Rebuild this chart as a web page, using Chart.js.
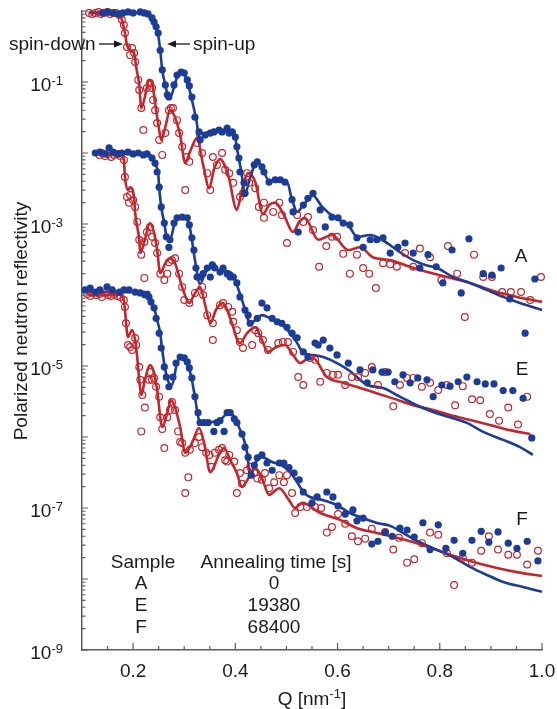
<!DOCTYPE html>
<html>
<head>
<meta charset="utf-8">
<title>Polarized neutron reflectivity</title>
<script src="https://cdn.jsdelivr.net/npm/chart.js@4.4.1/dist/chart.umd.min.js"></script>
<style>
  html, body { margin: 0; padding: 0; background: #fff; }
  canvas { display: block; }
</style>
</head>
<body>
<canvas id="chart" width="557" height="709"></canvas>
<script>
// ---- data: [Q (nm^-1), reflectivity] ----

// sample A, spin-up measured points
const aUp = [[0.141,0.94],[0.151,0.97],[0.161,0.94],[0.171,0.91],[0.180,0.94],[0.190,0.97],[0.200,0.94],[0.214,0.97],[0.222,0.94],[0.229,0.91],[0.237,0.80],[0.241,0.70],[0.245,0.60],[0.249,0.49],[0.253,0.28],[0.257,0.148],[0.263,0.091],[0.267,0.066],[0.270,0.0615],[0.280,0.091],[0.286,0.125],[0.294,0.138],[0.300,0.134],[0.306,0.107],[0.310,0.088],[0.315,0.0615],[0.321,0.032],[0.329,0.0198],[0.331,0.0153],[0.341,0.0179],[0.351,0.0191],[0.358,0.0198],[0.368,0.0211],[0.374,0.0198],[0.384,0.0225],[0.388,0.0191],[0.394,0.0198],[0.400,0.0168],[0.403,0.0122],[0.407,0.0085],[0.409,0.0054],[0.417,0.0038],[0.419,0.0027],[0.437,0.0068],[0.443,0.0075],[0.452,0.0064],[0.456,0.0054],[0.466,0.0039],[0.478,0.0042],[0.488,0.0042],[0.497,0.0039],[0.511,0.0022],[0.513,0.00148],[0.523,0.00077],[0.533,0.00185],[0.542,0.0023],[0.552,0.0027],[0.566,0.00158],[0.576,0.00091],[0.589,0.00125],[0.601,0.00122],[0.611,0.00103],[0.624,0.00097],[0.638,0.00064],[0.650,0.00047],[0.664,0.00060],[0.677,0.00060],[0.689,0.00064],[0.703,0.00039],[0.718,0.00047],[0.732,0.00054],[0.748,0.00039],[0.761,0.00024],[0.777,0.00037],[0.793,0.00025],[0.806,0.000148],[0.824,0.00043],[0.842,0.000107],[0.857,0.00062],[0.885,0.00020],[0.902,0.00019],[0.920,0.00024],[0.937,0.000088],[0.967,0.000029],[0.986,0.000168]];
// sample A, spin-down measured points
const aDown = [[0.114,0.94],[0.120,0.91],[0.126,0.94],[0.132,0.97],[0.137,0.91],[0.143,0.94],[0.149,0.97],[0.155,0.91],[0.161,0.94],[0.167,0.94],[0.173,0.88],[0.178,0.75],[0.182,0.635],[0.184,0.49],[0.188,0.31],[0.194,0.24],[0.198,0.30],[0.202,0.256],[0.204,0.191],[0.210,0.107],[0.212,0.077],[0.216,0.043],[0.220,0.021],[0.227,0.082],[0.233,0.097],[0.237,0.082],[0.239,0.056],[0.243,0.040],[0.247,0.0265],[0.251,0.0153],[0.257,0.0094],[0.263,0.0191],[0.270,0.040],[0.274,0.043],[0.278,0.043],[0.286,0.029],[0.290,0.0191],[0.296,0.0122],[0.304,0.0088],[0.302,0.0030],[0.310,0.0075],[0.325,0.0138],[0.331,0.0179],[0.335,0.010],[0.345,0.0052],[0.351,0.0030],[0.356,0.0088],[0.364,0.0068],[0.374,0.010],[0.380,0.0058],[0.388,0.0052],[0.396,0.0038],[0.409,0.0024],[0.415,0.0027],[0.423,0.0052],[0.427,0.0038],[0.439,0.0032],[0.446,0.00174],[0.456,0.0020],[0.456,0.00122],[0.474,0.00148],[0.486,0.0020],[0.491,0.00134],[0.501,0.00054],[0.521,0.00134],[0.533,0.00107],[0.542,0.00125],[0.552,0.00082],[0.564,0.00025],[0.578,0.00049],[0.589,0.00066],[0.599,0.00066],[0.611,0.00038],[0.624,0.00020],[0.638,0.00037],[0.650,0.00024],[0.662,0.00020],[0.675,0.000125],[0.689,0.00028],[0.703,0.00027],[0.716,0.00025],[0.732,0.00039],[0.748,0.00025],[0.761,0.00045],[0.781,0.00034],[0.803,0.000163],[0.816,0.00049],[0.834,0.00020],[0.849,0.000049],[0.867,0.00037],[0.885,0.000179],[0.902,0.000179],[0.922,0.00011],[0.939,0.00011],[0.959,0.00011],[0.977,0.000085],[0.998,0.000179]];
// sample A fits
const aUpFit = [[0.116,0.94],[0.231,0.94],[0.237,0.75],[0.243,0.595],[0.249,0.459],[0.253,0.282],[0.257,0.148],[0.263,0.091],[0.268,0.066],[0.274,0.0635],[0.282,0.097],[0.292,0.138],[0.300,0.129],[0.308,0.091],[0.315,0.056],[0.323,0.031],[0.331,0.0153],[0.341,0.019],[0.370,0.0204],[0.398,0.019],[0.403,0.0118],[0.411,0.0058],[0.419,0.0027],[0.429,0.0045],[0.441,0.0072],[0.452,0.0064],[0.464,0.0042],[0.488,0.0040],[0.501,0.0039],[0.511,0.0022],[0.521,0.00148],[0.533,0.00185],[0.552,0.0025],[0.570,0.00174],[0.595,0.00122],[0.621,0.00097],[0.638,0.00066],[0.664,0.00070],[0.687,0.00060],[0.722,0.00040],[0.748,0.00031],[0.775,0.00026],[0.795,0.00024],[0.826,0.000179],[0.859,0.000148],[0.892,0.000118],[0.924,0.000094],[0.957,0.000077],[1.0,0.0000615]];
const aDownFit = [[0.114,0.94],[0.173,0.94],[0.178,0.75],[0.184,0.49],[0.188,0.33],[0.194,0.282],[0.202,0.256],[0.206,0.163],[0.212,0.091],[0.216,0.043],[0.223,0.0615],[0.231,0.107],[0.237,0.097],[0.243,0.0506],[0.251,0.021],[0.255,0.0153],[0.263,0.0232],[0.272,0.040],[0.282,0.032],[0.292,0.0179],[0.302,0.0072],[0.311,0.0103],[0.325,0.0163],[0.337,0.0068],[0.349,0.0032],[0.358,0.0058],[0.370,0.0082],[0.386,0.0049],[0.403,0.00158],[0.413,0.0030],[0.425,0.0052],[0.439,0.0039],[0.454,0.00138],[0.466,0.00185],[0.478,0.0020],[0.495,0.00134],[0.513,0.00077],[0.525,0.00107],[0.536,0.00122],[0.562,0.00060],[0.589,0.00070],[0.621,0.00043],[0.644,0.00047],[0.669,0.00034],[0.703,0.00031],[0.748,0.00024],[0.814,0.000179],[0.859,0.000148],[0.912,0.000110],[0.951,0.000094],[1.0,0.000080]];

// sample E (offset by 1e-2)
const eUp = [[0.126,0.010],[0.135,0.0103],[0.145,0.0097],[0.153,0.0118],[0.161,0.0103],[0.171,0.0097],[0.178,0.010],[0.190,0.0103],[0.200,0.0097],[0.210,0.010],[0.220,0.0094],[0.227,0.0097],[0.237,0.0085],[0.243,0.0072],[0.247,0.0054],[0.251,0.0033],[0.255,0.00174],[0.261,0.00103],[0.265,0.00066],[0.270,0.00047],[0.272,0.00060],[0.280,0.00103],[0.286,0.00122],[0.296,0.00125],[0.306,0.00122],[0.310,0.00097],[0.315,0.00064],[0.319,0.00043],[0.323,0.00024],[0.325,0.000179],[0.331,0.000179],[0.337,0.00020],[0.345,0.00024],[0.351,0.000179],[0.355,0.000265],[0.360,0.00024],[0.370,0.00021],[0.376,0.00024],[0.384,0.00020],[0.390,0.000179],[0.396,0.000179],[0.403,0.000148],[0.409,0.000094],[0.419,0.0000615],[0.425,0.000052],[0.429,0.000040],[0.443,0.000047],[0.452,0.000077],[0.462,0.000066],[0.472,0.000047],[0.482,0.000042],[0.491,0.000040],[0.501,0.000035],[0.511,0.000029],[0.521,0.000025],[0.533,0.0000158],[0.542,0.0000134],[0.556,0.0000211],[0.562,0.0000198],[0.572,0.0000232],[0.585,0.0000179],[0.599,0.0000143],[0.621,0.000011],[0.644,0.0000088],[0.658,0.0000058],[0.669,0.0000088],[0.687,0.0000082],[0.699,0.0000082],[0.712,0.0000060],[0.728,0.0000075],[0.742,0.0000058],[0.757,0.0000068],[0.775,0.0000064],[0.787,0.0000037],[0.804,0.0000054],[0.820,0.0000052],[0.836,0.0000060],[0.853,0.0000070],[0.873,0.0000060],[0.889,0.0000056],[0.906,0.0000056],[0.924,0.0000045],[0.943,0.0000045],[0.963,0.0000035],[0.980,0.00000097]];
const eDown = [[0.134,0.0094],[0.139,0.010],[0.145,0.0091],[0.151,0.0097],[0.157,0.0088],[0.163,0.0094],[0.169,0.0097],[0.175,0.0091],[0.182,0.0080],[0.184,0.0046],[0.188,0.0024],[0.192,0.0020],[0.194,0.00256],[0.200,0.00218],[0.204,0.00174],[0.208,0.00107],[0.212,0.00060],[0.216,0.00037],[0.222,0.00056],[0.222,0.000174],[0.227,0.00077],[0.233,0.00091],[0.237,0.00066],[0.243,0.00054],[0.247,0.00039],[0.253,0.00020],[0.261,0.000163],[0.267,0.00020],[0.270,0.00029],[0.276,0.00031],[0.282,0.00033],[0.290,0.00020],[0.296,0.00013],[0.300,0.000085],[0.310,0.000077],[0.321,0.000107],[0.335,0.00013],[0.337,0.0001],[0.345,0.000052],[0.356,0.000040],[0.356,0.0000232],[0.370,0.000072],[0.376,0.000077],[0.386,0.000068],[0.394,0.000058],[0.396,0.000042],[0.403,0.000032],[0.409,0.0000218],[0.415,0.0000179],[0.433,0.0000198],[0.439,0.000032],[0.445,0.000029],[0.454,0.0000232],[0.464,0.0000168],[0.484,0.0000211],[0.493,0.0000218],[0.503,0.0000218],[0.513,0.0000158],[0.523,0.0000070],[0.533,0.0000054],[0.546,0.000013],[0.556,0.0000122],[0.566,0.0000060],[0.579,0.0000080],[0.591,0.0000075],[0.601,0.0000075],[0.615,0.0000054],[0.628,0.0000070],[0.640,0.0000070],[0.654,0.0000080],[0.667,0.0000097],[0.679,0.0000054],[0.693,0.0000082],[0.709,0.0000027],[0.722,0.0000054],[0.736,0.0000068],[0.748,0.0000068],[0.765,0.0000051],[0.781,0.0000058],[0.797,0.0000046],[0.814,0.0000054],[0.830,0.0000028],[0.845,0.0000052],[0.863,0.0000034],[0.879,0.0000033],[0.898,0.0000021],[0.916,0.0000017],[0.934,0.0000026],[0.953,0.0000015],[0.971,0.0000037]];
const eUpFit = [[0.126,0.0098],[0.231,0.0098],[0.237,0.0085],[0.243,0.0068],[0.249,0.0052],[0.251,0.0033],[0.255,0.00174],[0.261,0.00103],[0.266,0.00064],[0.272,0.00060],[0.282,0.00107],[0.292,0.00125],[0.302,0.00122],[0.310,0.00097],[0.315,0.00060],[0.321,0.00031],[0.331,0.000143],[0.341,0.000204],[0.351,0.00024],[0.370,0.00022],[0.393,0.000204],[0.403,0.000138],[0.415,0.000077],[0.425,0.0000445],[0.429,0.000040],[0.443,0.000047],[0.452,0.000052],[0.468,0.000047],[0.488,0.000040],[0.507,0.000029],[0.521,0.000021],[0.533,0.0000153],[0.552,0.0000143],[0.572,0.0000134],[0.599,0.0000110],[0.624,0.0000085],[0.658,0.0000054],[0.689,0.0000049],[0.722,0.0000037],[0.755,0.0000028],[0.787,0.00000225],[0.820,0.0000019],[0.853,0.00000158],[0.885,0.00000118],[0.924,0.00000091],[0.957,0.00000072],[0.982,0.00000056]];
const eDownFit = [[0.134,0.0094],[0.178,0.0094],[0.182,0.0080],[0.184,0.0046],[0.190,0.0030],[0.194,0.0033],[0.202,0.00232],[0.204,0.00143],[0.212,0.00060],[0.214,0.00039],[0.223,0.00060],[0.233,0.00103],[0.241,0.00075],[0.247,0.00043],[0.253,0.000204],[0.263,0.00028],[0.272,0.00033],[0.282,0.00028],[0.296,0.000129],[0.310,0.000077],[0.319,0.0001],[0.331,0.000129],[0.341,0.000072],[0.351,0.000040],[0.362,0.0000615],[0.376,0.000077],[0.390,0.000047],[0.409,0.000021],[0.423,0.000029],[0.439,0.000035],[0.450,0.000025],[0.464,0.0000158],[0.480,0.0000185],[0.497,0.0000198],[0.513,0.0000143],[0.527,0.0000110],[0.538,0.0000122],[0.552,0.0000129],[0.579,0.0000070],[0.611,0.0000058],[0.644,0.0000049],[0.669,0.0000043],[0.708,0.0000035],[0.748,0.0000028],[0.787,0.0000024],[0.820,0.00000204],[0.859,0.00000174],[0.898,0.00000148],[0.937,0.00000125],[0.977,0.0000011]];

// sample F (offset by 1e-4)
const fUp = [[0.106,0.000118],[0.116,0.000125],[0.126,0.00011],[0.135,0.000118],[0.149,0.00013],[0.159,0.000118],[0.173,0.00011],[0.182,0.000118],[0.192,0.000118],[0.204,0.00011],[0.214,0.000107],[0.223,0.0001],[0.231,0.000094],[0.235,0.00008],[0.241,0.000066],[0.245,0.000047],[0.251,0.000029],[0.255,0.0000179],[0.261,0.0000097],[0.265,0.000007],[0.270,0.0000051],[0.278,0.000007],[0.284,0.000011],[0.292,0.0000134],[0.300,0.000013],[0.306,0.0000114],[0.310,0.0000094],[0.315,0.0000068],[0.321,0.0000037],[0.327,0.0000022],[0.331,0.0000016],[0.339,0.0000016],[0.347,0.0000016],[0.358,0.0000012],[0.364,0.0000016],[0.370,0.0000017],[0.378,0.0000012],[0.384,0.0000022],[0.390,0.0000022],[0.398,0.0000018],[0.403,0.0000016],[0.413,0.0000011],[0.419,0.00000072],[0.425,0.00000052],[0.431,0.00000029],[0.437,0.0000004],[0.443,0.00000051],[0.452,0.00000056],[0.462,0.00000043],[0.472,0.00000034],[0.486,0.00000043],[0.495,0.00000043],[0.505,0.00000037],[0.515,0.00000031],[0.525,0.00000025],[0.533,0.000000168],[0.550,0.000000118],[0.560,0.000000143],[0.579,0.000000168],[0.591,0.000000143],[0.601,0.000000107],[0.615,0.000000082],[0.630,0.000000094],[0.638,0.000000066],[0.650,0.000000072],[0.667,0.000000031],[0.679,0.000000034],[0.693,0.000000045],[0.707,0.00000004],[0.722,0.000000052],[0.736,0.000000049],[0.750,0.000000039],[0.767,0.000000062],[0.781,0.000000026],[0.797,0.000000058],[0.812,0.000000027],[0.828,0.000000035],[0.845,0.000000023],[0.863,0.000000035],[0.881,0.000000047],[0.896,0.000000033],[0.914,0.000000046],[0.934,0.000000032],[0.951,0.000000027],[0.971,0.000000034],[0.992,0.000000018]];
const fDown = [[0.110,0.000103],[0.116,0.000097],[0.122,0.000107],[0.128,0.0001],[0.134,0.000103],[0.139,0.000094],[0.145,0.000107],[0.151,0.0001],[0.157,0.000097],[0.163,0.000103],[0.169,0.000097],[0.175,0.000094],[0.182,0.000085],[0.184,0.000068],[0.186,0.00004],[0.190,0.0000198],[0.194,0.0000185],[0.198,0.0000168],[0.204,0.0000248],[0.206,0.0000198],[0.212,0.0000097],[0.214,0.0000064],[0.218,0.0000039],[0.216,0.0000012],[0.223,0.0000026],[0.231,0.0000064],[0.233,0.0000082],[0.237,0.0000064],[0.241,0.0000068],[0.245,0.0000051],[0.251,0.0000037],[0.253,0.0000019],[0.257,0.0000013],[0.261,0.0000007],[0.267,0.0000019],[0.272,0.0000024],[0.276,0.0000031],[0.282,0.0000024],[0.288,0.0000012],[0.292,0.00000085],[0.296,0.00000082],[0.302,0.0000006],[0.308,0.00000027],[0.302,0.000000163],[0.311,0.00000066],[0.321,0.00000082],[0.329,0.000001],[0.335,0.00000072],[0.343,0.0000006],[0.349,0.00000056],[0.353,0.00000038],[0.360,0.0000006],[0.368,0.00000066],[0.374,0.0000007],[0.380,0.00000047],[0.384,0.00000045],[0.388,0.00000056],[0.398,0.00000045],[0.403,0.000000163],[0.409,0.00000031],[0.413,0.00000022],[0.423,0.00000034],[0.429,0.00000038],[0.437,0.00000031],[0.443,0.00000026],[0.452,0.00000025],[0.458,0.00000031],[0.466,0.00000019],[0.476,0.00000023],[0.486,0.00000029],[0.495,0.00000023],[0.501,0.00000029],[0.511,0.000000163],[0.517,0.000000085],[0.527,0.000000103],[0.540,0.000000103],[0.556,0.000000103],[0.568,0.0000001],[0.579,0.000000045],[0.589,0.000000054],[0.601,0.000000082],[0.615,0.00000006],[0.628,0.00000004],[0.640,0.000000034],[0.654,0.000000037],[0.667,0.000000051],[0.693,0.000000046],[0.709,0.000000026],[0.720,0.000000038],[0.736,0.000000017],[0.750,0.000000019],[0.765,0.000000032],[0.781,0.000000045],[0.797,0.000000042],[0.814,0.000000023],[0.828,0.0000000082],[0.845,0.00000002],[0.863,0.000000017],[0.881,0.000000025],[0.896,0.00000004],[0.914,0.000000026],[0.934,0.000000022],[0.951,0.000000022],[0.971,0.000000016],[0.992,0.000000025]];
const fUpFit = [[0.106,0.00011],[0.231,0.00011],[0.233,0.000085],[0.241,0.000066],[0.247,0.0000445],[0.253,0.000029],[0.257,0.0000168],[0.263,0.0000088],[0.270,0.0000058],[0.276,0.0000054],[0.286,0.000011],[0.296,0.0000134],[0.306,0.000011],[0.315,0.00000635],[0.321,0.00000365],[0.329,0.00000174],[0.339,0.00000158],[0.355,0.00000163],[0.374,0.00000185],[0.388,0.00000225],[0.398,0.0000019],[0.407,0.00000138],[0.417,0.00000091],[0.423,0.0000006],[0.429,0.00000028],[0.439,0.00000043],[0.452,0.00000052],[0.472,0.000000445],[0.493,0.00000039],[0.507,0.00000032],[0.521,0.00000023],[0.533,0.000000168],[0.546,0.000000143],[0.572,0.000000129],[0.599,0.00000011],[0.624,0.000000085],[0.650,0.000000072],[0.677,0.0000000615],[0.703,0.000000056],[0.728,0.0000000445],[0.761,0.000000033],[0.795,0.0000000255],[0.826,0.0000000204],[0.859,0.0000000148],[0.892,0.0000000114],[0.924,0.0000000091],[0.963,0.0000000077],[1.0,0.0000000066]];
const fDownFit = [[0.112,0.0001],[0.175,0.0001],[0.182,0.000085],[0.184,0.0000615],[0.190,0.0000256],[0.198,0.000032],[0.204,0.000023],[0.208,0.0000134],[0.212,0.00000635],[0.216,0.0000039],[0.223,0.00000635],[0.233,0.0000103],[0.241,0.000008],[0.247,0.0000046],[0.257,0.00000138],[0.267,0.0000022],[0.274,0.0000033],[0.282,0.00000264],[0.292,0.00000138],[0.302,0.0000006],[0.315,0.00000082],[0.329,0.00000134],[0.339,0.00000082],[0.351,0.00000032],[0.368,0.00000056],[0.378,0.0000007],[0.390,0.000000475],[0.403,0.00000031],[0.413,0.0000002],[0.427,0.000000273],[0.439,0.000000365],[0.452,0.000000264],[0.466,0.000000153],[0.486,0.00000019],[0.505,0.000000129],[0.517,0.0000001],[0.531,0.000000118],[0.566,0.000000085],[0.605,0.000000068],[0.638,0.000000052],[0.677,0.0000000445],[0.716,0.000000038],[0.755,0.000000032],[0.795,0.0000000256],[0.834,0.0000000204],[0.873,0.0000000168],[0.912,0.0000000143],[0.951,0.0000000125],[1.0,0.000000011]];

// axis labels
const xTickValues = [0.2, 0.4, 0.6, 0.8, 1.0];
const xTickLabels = ['0.2', '0.4', '0.6', '0.8', '1.0'];
const yLabelExps = [-1, -3, -5, -7, -9];

// inset table
const sampleNames = ['A', 'E', 'F'];
const annealTimes = ['0', '19380', '68400'];

const BLUE = '#1c3c95';
const RED = '#c1272d';
const AXIS = '#5c5c5c';
const INK = '#1a1a1a';
const FONT = '"Liberation Sans", Arial, Helvetica, sans-serif';

const toXY = arr => arr.map(p => ({ x: p[0], y: p[1] }));

function fitSet(arr, color) {
    return {
        data: toXY(arr), showLine: true, borderColor: color, borderWidth: 2.6,
        pointRadius: 0, cubicInterpolationMode: 'monotone', clip: false, order: 2
    };
}
function upSet(arr) {
    return {
        data: toXY(arr), showLine: false, pointRadius: 3.6, pointStyle: 'circle',
        backgroundColor: BLUE, borderColor: BLUE, borderWidth: 0, clip: false, order: 1
    };
}
function downSet(arr) {
    return {
        data: toXY(arr), showLine: false, pointRadius: 3.4, pointStyle: 'circle',
        backgroundColor: 'rgba(255,255,255,0)', borderColor: RED, borderWidth: 1.2, clip: false, order: 1
    };
}

function arrow(ctx, x1, x2, y) {
    const dir = Math.sign(x2 - x1);
    ctx.beginPath();
    ctx.moveTo(x1, y);
    ctx.lineTo(x2 - dir * 6, y);
    ctx.stroke();
    ctx.beginPath();
    ctx.moveTo(x2, y);
    ctx.lineTo(x2 - dir * 9, y - 3.5);
    ctx.lineTo(x2 - dir * 9, y + 3.5);
    ctx.closePath();
    ctx.fill();
}

// ticks point inward, labels with superscripts, inset text
const decorations = {
    id: 'decorations',
    afterDraw(chart) {
        const { ctx, chartArea: area, scales } = chart;
        const xs = scales.x, ys = scales.y;
        ctx.save();
        ctx.strokeStyle = AXIS;
        ctx.lineWidth = 1.2;
        ctx.beginPath();
        for (let e = 0; e >= -9; e--) {
            const py = ys.getPixelForValue(Math.pow(10, e));
            ctx.moveTo(area.left, py); ctx.lineTo(area.left + 6, py);
            if (e > -9) {
                for (let m = 2; m <= 9; m++) {
                    const pm = ys.getPixelForValue(m * Math.pow(10, e - 1));
                    ctx.moveTo(area.left, pm); ctx.lineTo(area.left + 3.5, pm);
                }
            }
        }
        for (let k = 3; k <= 20; k++) {
            const px = xs.getPixelForValue(k * 0.05);
            const len = k % 4 === 0 ? 7 : 4;
            ctx.moveTo(px, area.bottom); ctx.lineTo(px, area.bottom - len);
        }
        ctx.stroke();

        ctx.fillStyle = INK;
        ctx.textBaseline = 'alphabetic';

        // y tick labels 10^n
        yLabelExps.forEach(e => {
            const py = ys.getPixelForValue(Math.pow(10, e));
            const sup = String(e);
            ctx.font = '13px ' + FONT;
            ctx.textAlign = 'right';
            ctx.fillText(sup, 63, py + 2.5);
            const w = ctx.measureText(sup).width;
            ctx.font = '19px ' + FONT;
            ctx.fillText('10', 63 - w, py + 9);
        });

        // x tick labels
        ctx.font = '19px ' + FONT;
        ctx.textAlign = 'center';
        xTickValues.forEach((v, i) => {
            ctx.fillText(xTickLabels[i], xs.getPixelForValue(v), 677);
        });

        // x title: Q [nm^-1]
        ctx.textAlign = 'left';
        ctx.font = '19px ' + FONT;
        const t1 = 'Q [nm', t3 = ']';
        const w1 = ctx.measureText(t1).width, w3 = ctx.measureText(t3).width;
        ctx.font = '13px ' + FONT;
        const t2 = '-1', w2 = ctx.measureText(t2).width;
        let tx = (area.left + area.right) / 2 - (w1 + w2 + w3) / 2;
        ctx.font = '19px ' + FONT;
        ctx.fillText(t1, tx, 705);
        ctx.font = '13px ' + FONT;
        ctx.fillText(t2, tx + w1, 698);
        ctx.font = '19px ' + FONT;
        ctx.fillText(t3, tx + w1 + w2, 705);

        // y title
        ctx.save();
        ctx.translate(27, 321);
        ctx.rotate(-Math.PI / 2);
        ctx.textAlign = 'center';
        ctx.fillText('Polarized neutron reflectivity', 0, 0);
        ctx.restore();

        // spin labels with arrows
        ctx.textAlign = 'left';
        ctx.fillText('spin-down', 9, 50);
        ctx.fillText('spin-up', 193, 50);
        ctx.strokeStyle = INK;
        ctx.lineWidth = 1.3;
        arrow(ctx, 99, 123, 44);
        arrow(ctx, 190, 167, 44);

        // sample labels beside the curves
        ctx.textAlign = 'center';
        ctx.fillText('A', 521, 262);
        ctx.fillText('E', 522, 375);
        ctx.fillText('F', 522, 525);

        // inset table
        ctx.fillText('Sample', 143, 568);
        ctx.fillText('Annealing time [s]', 276, 568);
        sampleNames.forEach((s, i) => {
            const by = 589 + i * 22;
            ctx.fillText(s, 141, by);
            ctx.fillText(annealTimes[i], 274, by);
        });
        ctx.restore();
    }
};

new Chart(document.getElementById('chart'), {
    type: 'scatter',
    data: {
        datasets: [
            upSet(aUp), downSet(aDown), fitSet(aUpFit, BLUE), fitSet(aDownFit, RED),
            upSet(eUp), downSet(eDown), fitSet(eUpFit, BLUE), fitSet(eDownFit, RED),
            upSet(fUp), downSet(fDown), fitSet(fUpFit, BLUE), fitSet(fDownFit, RED)
        ]
    },
    options: {
        responsive: false,
        devicePixelRatio: 1,
        animation: false,
        layout: { padding: { top: 11, right: 15, left: 0, bottom: 0 } },
        plugins: { legend: { display: false }, tooltip: { enabled: false } },
        scales: {
            x: {
                type: 'linear', min: 0.1, max: 1.0,
                grid: { display: false },
                border: { display: true, color: AXIS, width: 1.5 },
                ticks: { display: false },
                afterFit(s) { s.height = 59; }
            },
            y: {
                type: 'logarithmic', min: 1e-9, max: 1,
                grid: { display: false },
                border: { display: true, color: AXIS, width: 1.5 },
                ticks: { display: false },
                afterFit(s) { s.width = 82; }
            }
        }
    },
    plugins: [decorations]
});
</script>
</body>
</html>
